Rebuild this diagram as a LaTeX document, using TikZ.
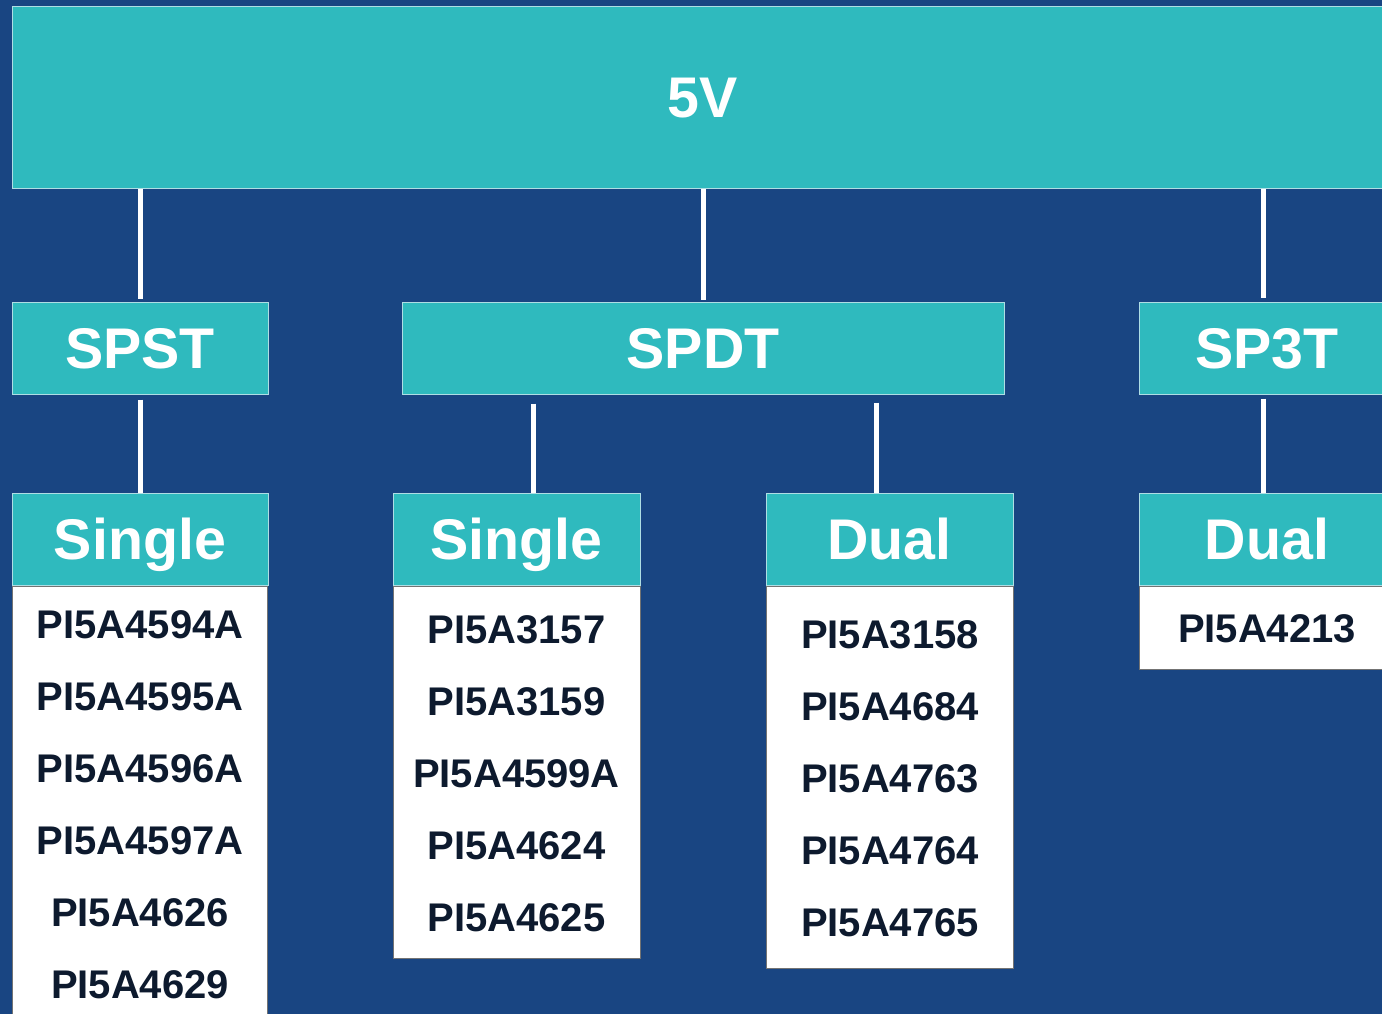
\documentclass[tikz,border=0pt]{standalone}
\usepackage{fontspec}
\setmainfont{Liberation Sans}
\definecolor{bgblue}{RGB}{25,69,130}
\definecolor{teal5}{RGB}{47,186,190}
\definecolor{edgelight}{RGB}{175,222,228}
\definecolor{inkdark}{RGB}{13,26,46}
\begin{document}
\begin{tikzpicture}[x=0.75pt,y=0.75pt,yscale=-1,xscale=1,
  head/.style={draw=edgelight, line width=0.75pt, fill=teal5, text=white, inner sep=0pt,
    font=\fontsize{43}{43}\selectfont\bfseries, text height=31pt, text depth=0pt},
  list/.style={draw=black!55, line width=0.75pt, fill=white, inner sep=0pt},
  item/.style={text=inkdark, inner sep=0pt, font=\fontsize{30}{30}\selectfont\bfseries,
    text height=21.5pt, text depth=0pt},
  link/.style={draw=white, line width=3.75pt}]
\path[use as bounding box] (0,0) rectangle (1382,1014);
\clip (0,0) rectangle (1382,1014);
\fill[bgblue] (0,0) rectangle (1382,1014);

%Top level
\node[head, minimum width=1036.5pt, minimum height=136.5pt] (five) at (703,97) {5V};

%Switch types
\node[head, minimum width=192pt, minimum height=69pt] (spst) at (140,348) {SPST};
\node[head, minimum width=451.5pt, minimum height=69pt] (spdt) at (703,348) {SPDT};
\node[head, minimum width=192pt, minimum height=69pt] (sptt) at (1267,348) {SP3T};

%Channel headers
\node[head, minimum width=192pt, minimum height=69pt] (sgla) at (140,539) {Single};
\node[head, minimum width=185.25pt, minimum height=69pt] (sglb) at (516.5,539) {Single};
\node[head, minimum width=185.25pt, minimum height=69pt] (dula) at (889.5,539) {Dual};
\node[head, minimum width=192pt, minimum height=69pt] (dulb) at (1267,539) {Dual};

%Part lists
\node[list, anchor=north, minimum width=191.25pt, minimum height=330pt] (lsta) at (sgla.south) {};
\node[list, anchor=north, minimum width=185.25pt, minimum height=279pt] (lstb) at (sglb.south) {};
\node[list, anchor=north, minimum width=185.25pt, minimum height=286.5pt] (lstc) at (dula.south) {};
\node[list, anchor=north, minimum width=192pt, minimum height=62.25pt] (lstd) at (dulb.south) {};
% redraw headers over the list edges
\node[head, minimum width=192pt, minimum height=69pt] at (sgla) {Single};
\node[head, minimum width=185.25pt, minimum height=69pt] at (sglb) {Single};
\node[head, minimum width=185.25pt, minimum height=69pt] at (dula) {Dual};
\node[head, minimum width=192pt, minimum height=69pt] at (dulb) {Dual};

\foreach \n [count=\i] in {PI5A4594A,PI5A4595A,PI5A4596A,PI5A4597A,PI5A4626,PI5A4629}
  \node[item] (pa\i) at (140,{624+72*(\i-1)}) {\n};
\foreach \n [count=\i] in {PI5A3157,PI5A3159,PI5A4599A,PI5A4624,PI5A4625}
  \node[item] (pb\i) at (516.5,{629+72*(\i-1)}) {\n};
\foreach \n [count=\i] in {PI5A3158,PI5A4684,PI5A4763,PI5A4764,PI5A4765}
  \node[item] (pc\i) at (890,{634+72*(\i-1)}) {\n};
\node[item] (pd1) at (1267,628) {PI5A4213};

%Connectors
\draw[link] (five.south -| spst.north) -- ([yshift=-2.25pt]spst.north);
\draw[link] (five.south -| spdt.north) -- ([yshift=-1pt]spdt.north);
\draw[link] ([xshift=-3pt]five.south -| sptt.north) -- ([xshift=-3pt,yshift=-3pt]sptt.north);
\draw[link] ([yshift=3.75pt]spst.south) -- (sgla.north);
\draw[link] ([yshift=6.75pt]spdt.south -| sglb.north) ++(12.4pt,0) -- ([xshift=12.4pt]sglb.north);
\draw[link] ([yshift=6pt]spdt.south -| dula.north) ++(-10pt,0) -- ([xshift=-10pt]dula.north);
\draw[link] ([xshift=-3pt,yshift=3pt]sptt.south) -- ([xshift=-3pt]dulb.north);

\end{tikzpicture}
\end{document}
